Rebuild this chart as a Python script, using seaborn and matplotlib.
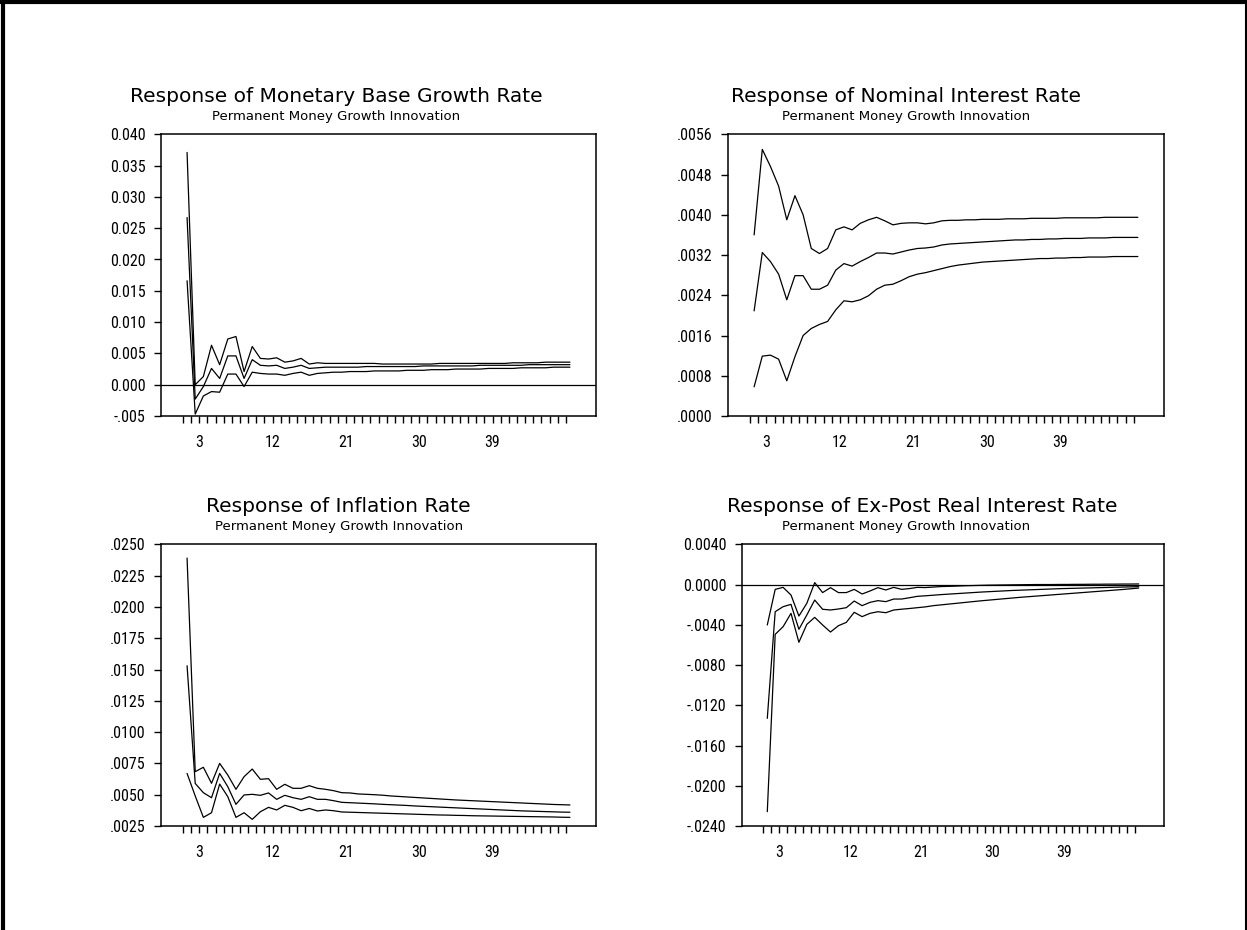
import matplotlib
matplotlib.use("Agg")
import matplotlib.pyplot as plt
import seaborn as sns
import pandas as pd
from matplotlib import font_manager
from matplotlib.lines import Line2D

# ---------------- data ----------------
periods = list(range(1, 49))

mb_hi = [0.0371, 0.0000, 0.0013, 0.0063, 0.0032, 0.0073, 0.0077, 0.0021, 0.0061, 0.0042,
         0.0041, 0.0043, 0.0036, 0.0038, 0.0042, 0.0033, 0.0035, 0.0034, 0.0034, 0.0034,
         0.0034, 0.0034, 0.0034, 0.0034, 0.0033, 0.0033, 0.0033, 0.0033, 0.0033, 0.0033,
         0.0033, 0.0034, 0.0034, 0.0034, 0.0034, 0.0034, 0.0034, 0.0034, 0.0034, 0.0034,
         0.0035, 0.0035, 0.0035, 0.0035, 0.0036, 0.0036, 0.0036, 0.0036]
mb_mid = [0.0267, -0.0023, -0.0003, 0.0026, 0.0010, 0.0046, 0.0046, 0.0010, 0.0040, 0.0031,
          0.0030, 0.0031, 0.0026, 0.0028, 0.0031, 0.0026, 0.0027, 0.0028, 0.0028, 0.0028,
          0.0028, 0.0028, 0.0029, 0.0029, 0.0029, 0.0029, 0.0029, 0.0029, 0.0029, 0.0030,
          0.0030, 0.0030, 0.0030, 0.0030, 0.0030, 0.0030, 0.0031, 0.0031, 0.0031, 0.0031,
          0.0031, 0.0031, 0.0032, 0.0032, 0.0032, 0.0032, 0.0032, 0.0032]
mb_lo = [0.0166, -0.0047, -0.0018, -0.0011, -0.0012, 0.0017, 0.0017, -0.0003, 0.0020, 0.0018,
         0.0017, 0.0017, 0.0015, 0.0018, 0.0020, 0.0015, 0.0018, 0.0019, 0.0020, 0.0020,
         0.0021, 0.0021, 0.0021, 0.0022, 0.0022, 0.0022, 0.0022, 0.0023, 0.0023, 0.0023,
         0.0024, 0.0024, 0.0024, 0.0025, 0.0025, 0.0025, 0.0025, 0.0026, 0.0026, 0.0026,
         0.0026, 0.0027, 0.0027, 0.0027, 0.0027, 0.0028, 0.0028, 0.0028]

ni_hi = [0.00360, 0.00530, 0.00496, 0.00457, 0.00390, 0.00438, 0.00400, 0.00333, 0.00323, 0.00333,
         0.00370, 0.00376, 0.00370, 0.00383, 0.00390, 0.00395, 0.00388, 0.00380, 0.00383, 0.00384,
         0.00384, 0.00382, 0.00384, 0.00388, 0.00389, 0.00389, 0.00390, 0.00390, 0.00391, 0.00391,
         0.00391, 0.00392, 0.00392, 0.00392, 0.00393, 0.00393, 0.00393, 0.00393, 0.00394, 0.00394,
         0.00394, 0.00394, 0.00394, 0.00395, 0.00395, 0.00395, 0.00395, 0.00395]
ni_mid = [0.00209, 0.00325, 0.00307, 0.00282, 0.00231, 0.00279, 0.00279, 0.00252, 0.00252, 0.00260,
          0.00290, 0.00303, 0.00298, 0.00307, 0.00315, 0.00324, 0.00324, 0.00322, 0.00326, 0.00330,
          0.00333, 0.00334, 0.00336, 0.00340, 0.00342, 0.00343, 0.00344, 0.00345, 0.00346, 0.00347,
          0.00348, 0.00349, 0.00350, 0.00350, 0.00351, 0.00351, 0.00352, 0.00352, 0.00353, 0.00353,
          0.00353, 0.00354, 0.00354, 0.00354, 0.00355, 0.00355, 0.00355, 0.00355]
ni_lo = [0.00058, 0.00119, 0.00121, 0.00113, 0.00070, 0.00118, 0.00160, 0.00174, 0.00182, 0.00188,
         0.00211, 0.00229, 0.00227, 0.00231, 0.00239, 0.00252, 0.00260, 0.00262, 0.00269, 0.00277,
         0.00282, 0.00285, 0.00289, 0.00293, 0.00297, 0.00300, 0.00302, 0.00304, 0.00306, 0.00307,
         0.00308, 0.00309, 0.00310, 0.00311, 0.00312, 0.00313, 0.00313, 0.00314, 0.00314, 0.00315,
         0.00315, 0.00316, 0.00316, 0.00316, 0.00317, 0.00317, 0.00317, 0.00317]

inf_hi = [0.02390, 0.00684, 0.00719, 0.00591, 0.00750, 0.00657, 0.00543, 0.00644, 0.00705, 0.00623,
          0.00628, 0.00543, 0.00583, 0.00551, 0.00551, 0.00572, 0.00551, 0.00543, 0.00532, 0.00516,
          0.00514, 0.00506, 0.00503, 0.00500, 0.00496, 0.00490, 0.00486, 0.00482, 0.00478, 0.00474,
          0.00470, 0.00466, 0.00462, 0.00458, 0.00455, 0.00452, 0.00449, 0.00446, 0.00443, 0.00440,
          0.00437, 0.00434, 0.00431, 0.00428, 0.00425, 0.00422, 0.00420, 0.00418]
inf_mid = [0.01530, 0.00590, 0.00516, 0.00476, 0.00670, 0.00564, 0.00423, 0.00498, 0.00503, 0.00495,
           0.00514, 0.00463, 0.00495, 0.00476, 0.00463, 0.00484, 0.00463, 0.00463, 0.00452, 0.00439,
           0.00436, 0.00433, 0.00430, 0.00427, 0.00423, 0.00420, 0.00417, 0.00414, 0.00410, 0.00407,
           0.00404, 0.00401, 0.00398, 0.00395, 0.00392, 0.00389, 0.00386, 0.00383, 0.00380, 0.00377,
           0.00374, 0.00371, 0.00369, 0.00367, 0.00365, 0.00363, 0.00361, 0.00360]
inf_lo = [0.00670, 0.00490, 0.00319, 0.00356, 0.00585, 0.00484, 0.00319, 0.00356, 0.00303, 0.00364,
          0.00399, 0.00378, 0.00415, 0.00399, 0.00372, 0.00390, 0.00370, 0.00378, 0.00372, 0.00362,
          0.00360, 0.00358, 0.00356, 0.00354, 0.00352, 0.00350, 0.00348, 0.00346, 0.00344, 0.00342,
          0.00340, 0.00338, 0.00337, 0.00335, 0.00334, 0.00332, 0.00331, 0.00330, 0.00329, 0.00328,
          0.00327, 0.00326, 0.00325, 0.00324, 0.00323, 0.00322, 0.00320, 0.00319]

rr_hi = [-0.00402, -0.00048, -0.00028, -0.00104, -0.00313, -0.00187, 0.00019, -0.00080, -0.00031, -0.00080,
         -0.00080, -0.00048, -0.00094, -0.00064, -0.00031, -0.00054, -0.00028, -0.00048, -0.00040, -0.00028,
         -0.00030, -0.00025, -0.00020, -0.00018, -0.00015, -0.00012, -0.00010, -0.00008, -0.00006, -0.00005,
         -0.00004, -0.00003, -0.00002, -0.00001, 0.00000, 0.00000, 0.00000, 0.00001, 0.00001, 0.00002,
         0.00002, 0.00003, 0.00003, 0.00004, 0.00004, 0.00005, 0.00005, 0.00006]
rr_mid = [-0.01330, -0.00270, -0.00220, -0.00197, -0.00445, -0.00303, -0.00154, -0.00246, -0.00253, -0.00243,
          -0.00230, -0.00164, -0.00210, -0.00177, -0.00160, -0.00170, -0.00144, -0.00144, -0.00131, -0.00117,
          -0.00112, -0.00106, -0.00100, -0.00095, -0.00090, -0.00085, -0.00080, -0.00075, -0.00071, -0.00067,
          -0.00063, -0.00059, -0.00056, -0.00053, -0.00050, -0.00047, -0.00044, -0.00041, -0.00039, -0.00037,
          -0.00035, -0.00033, -0.00031, -0.00029, -0.00027, -0.00025, -0.00023, -0.00021]
rr_lo = [-0.02258, -0.00495, -0.00419, -0.00286, -0.00574, -0.00396, -0.00326, -0.00402, -0.00472, -0.00409,
         -0.00376, -0.00276, -0.00319, -0.00286, -0.00270, -0.00280, -0.00253, -0.00245, -0.00238, -0.00230,
         -0.00222, -0.00210, -0.00202, -0.00194, -0.00186, -0.00178, -0.00170, -0.00162, -0.00155, -0.00148,
         -0.00141, -0.00134, -0.00127, -0.00121, -0.00115, -0.00109, -0.00103, -0.00097, -0.00091, -0.00085,
         -0.00079, -0.00073, -0.00067, -0.00061, -0.00055, -0.00049, -0.00042, -0.00035]

titles = ["Response of Monetary Base Growth Rate", "Response of Nominal Interest Rate",
          "Response of Inflation Rate", "Response of Ex-Post Real Interest Rate"]
subtitle = "Permanent Money Growth Innovation"

mb_yticks = [-0.005, 0.000, 0.005, 0.010, 0.015, 0.020, 0.025, 0.030, 0.035, 0.040]
mb_ylabels = ["-.005", "0.000", "0.005", "0.010", "0.015", "0.020", "0.025", "0.030", "0.035", "0.040"]
ni_yticks = [0.0000, 0.0008, 0.0016, 0.0024, 0.0032, 0.0040, 0.0048, 0.0056]
ni_ylabels = [".0000", ".0008", ".0016", ".0024", ".0032", ".0040", ".0048", ".0056"]
inf_yticks = [0.0025, 0.0050, 0.0075, 0.0100, 0.0125, 0.0150, 0.0175, 0.0200, 0.0225, 0.0250]
inf_ylabels = [".0025", ".0050", ".0075", ".0100", ".0125", ".0150", ".0175", ".0200", ".0225", ".0250"]
rr_yticks = [-0.0240, -0.0200, -0.0160, -0.0120, -0.0080, -0.0040, 0.0000, 0.0040]
rr_ylabels = ["-.0240", "-.0200", "-.0160", "-.0120", "-.0080", "-.0040", "0.0000", "0.0040"]

x_labelled = [3, 12, 21, 30, 39]

# ---------------- style ----------------
sns.set_style("white")
plt.rcParams['font.family'] = ['DejaVu Sans']
plt.rcParams['text.color'] = 'black'
plt.rcParams['xtick.color'] = 'black'
plt.rcParams['ytick.color'] = 'black'
plt.rcParams['xtick.labelcolor'] = 'black'
plt.rcParams['ytick.labelcolor'] = 'black'

names = {f.name for f in font_manager.fontManager.ttflist}
narrow_family = None
for cand in ["Liberation Sans Narrow", "Roboto Condensed", "Open Sans Condensed", "Noto Sans Condensed"]:
    if cand in names:
        narrow_family = cand
        break
if narrow_family is None:
    cond = [f.name for f in font_manager.fontManager.ttflist
            if str(f.stretch) in ("condensed", "semi-condensed", "extra-condensed", "ultra-condensed")
            or (isinstance(f.stretch, int) and f.stretch < 500)]
    if cond:
        narrow_family = cond[0]
if narrow_family is not None:
    tick_font = dict(family=narrow_family, size=11.5)
else:
    tick_font = dict(family="DejaVu Sans", size=9)

W, H = 1247, 930
fig = plt.figure(figsize=(W / 100, H / 100), dpi=100)

panels = [
    # left, top, right, bottom in pixels
    dict(box=(161, 134.3, 596, 416), lines=(mb_hi, mb_mid, mb_lo), yt=mb_yticks, yl=mb_ylabels,
         ylim=(-0.005, 0.040), zero=True, tcx=336, scx=336, tty=102, sty=120, title=titles[0]),
    dict(box=(728, 134.3, 1164, 416), lines=(ni_hi, ni_mid, ni_lo), yt=ni_yticks, yl=ni_ylabels,
         ylim=(0.0, 0.0056), zero=False, tcx=906, scx=906, tty=102, sty=120, title=titles[1]),
    dict(box=(161, 544.3, 596, 826), lines=(inf_hi, inf_mid, inf_lo), yt=inf_yticks, yl=inf_ylabels,
         ylim=(0.0025, 0.0250), zero=False, tcx=338, scx=339, tty=512, sty=530, title=titles[2]),
    dict(box=(742, 544.3, 1164, 826), lines=(rr_hi, rr_mid, rr_lo), yt=rr_yticks, yl=rr_ylabels,
         ylim=(-0.024, 0.004), zero=True, tcx=922, scx=906, tty=512, sty=530, title=titles[3]),
]

for p in panels:
    l, t, r, b = p["box"]
    ax = fig.add_axes([l / W, 1 - b / H, (r - l) / W, (b - t) / H])
    df = pd.DataFrame({
        "period": periods * 3,
        "value": list(p["lines"][0]) + list(p["lines"][1]) + list(p["lines"][2]),
        "band": ["upper"] * 48 + ["mid"] * 48 + ["lower"] * 48,
    })
    sns.lineplot(data=df, x="period", y="value", units="band", estimator=None,
                 color="black", linewidth=0.9, ax=ax, legend=False)
    if p["zero"]:
        ax.axhline(0.0, color="black", linewidth=0.9)
    ax.set_xlim(-2.2, 51.2)
    ax.set_ylim(*p["ylim"])
    tick_pos = [k - 0.5 for k in periods]
    ax.set_xticks(tick_pos)
    ax.set_xticklabels([str(k) if k in x_labelled else "" for k in periods], color="black", **tick_font)
    ax.set_yticks(p["yt"])
    ax.set_yticklabels(p["yl"], color="black", **tick_font)
    ax.tick_params(axis="x", direction="out", length=5, width=1, pad=9, color="black",
                   bottom=True)
    ax.tick_params(axis="y", direction="out", length=5, width=1, pad=6, color="black", left=True)
    ax.set_xlabel("")
    ax.set_ylabel("")
    for s in ax.spines.values():
        s.set_color("black")
        s.set_linewidth(1.1)
        s.set_visible(True)
    ax.grid(False)
    fig.text(p["tcx"] / W, 1 - p["tty"] / H, p["title"], ha="center", va="baseline",
             fontsize=14.5, family="DejaVu Sans", color="black")
    fig.text(p["scx"] / W, 1 - p["sty"] / H, subtitle, ha="center", va="baseline",
             fontsize=9.5, family="DejaVu Sans", color="black")

# figure frame (top and left heavy, right thin)
fig.add_artist(Line2D([0, 1], [1 - 2 / H, 1 - 2 / H], transform=fig.transFigure, color="black", linewidth=3))
fig.add_artist(Line2D([2.5 / W, 2.5 / W], [0, 1], transform=fig.transFigure, color="black", linewidth=3))
fig.add_artist(Line2D([1 - 1.5 / W, 1 - 1.5 / W], [0, 1], transform=fig.transFigure, color="black", linewidth=1.5))

fig.savefig("out.png", dpi=100, facecolor="white")
